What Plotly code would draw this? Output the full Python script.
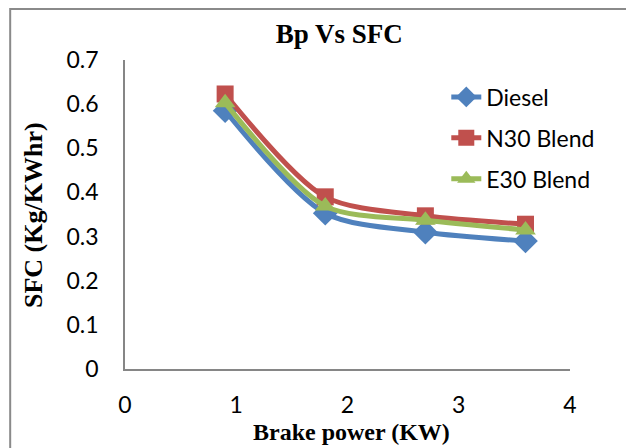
import plotly.graph_objects as go

bp = [0.9, 1.8, 2.7, 3.6]
diesel = [0.585, 0.353, 0.31, 0.29]
n30 = [0.623, 0.39, 0.347, 0.328]
e30 = [0.603, 0.369, 0.337, 0.315]

series = [
    ("Diesel", diesel, "#4F81BD", "diamond", 19),
    ("N30 Blend", n30, "#C0504D", "square", 17),
    ("E30 Blend", e30, "#9BBB59", "triangle-up", 18),
]

fig = go.Figure()
for i, (name, vals, col, sym, sz) in enumerate(series):
    fig.add_trace(go.Scatter(
        x=bp, y=vals, name=name, mode="lines+markers", legendgroup=f"g{i}",
        line=dict(color=col, width=5, shape="spline", smoothing=0.8),
        marker=dict(symbol=sym, size=sz, color=col),
    ))

sans = "Lato, Open Sans, sans-serif"
serif = "Liberation Serif, Times New Roman, serif"
tick_font = dict(family=sans, size=23, color="#000")
fig.update_layout(
    width=626, height=448,
    margin=dict(l=125, r=56, t=60, b=79),
    paper_bgcolor="white", plot_bgcolor="white",
    title=dict(text="<b>Bp Vs SFC</b>", x=0.542, xanchor="center", y=0.924, yanchor="middle",
               font=dict(family=serif, size=27, color="#000")),
    xaxis=dict(range=[0, 4], dtick=1, showgrid=False, zeroline=False, showline=True,
               linecolor="#868686", linewidth=1.5, ticks="", tickfont=tick_font,
               ticklabelstandoff=15),
    yaxis=dict(range=[0, 0.7], dtick=0.1, showgrid=False, zeroline=False, showline=True,
               linecolor="#868686", linewidth=1.5, ticks="", tickfont=tick_font,
               tickformat=".1~f", ticklabelstandoff=20),
    legend=dict(x=0.722, y=0.95, xanchor="left", yanchor="top", bgcolor="rgba(0,0,0,0)",
                font=dict(family=sans, size=23, color="#000"),
                tracegroupgap=8, traceorder="grouped"),
    showlegend=True,
)
fig.add_annotation(text="<b>Brake power (KW)</b>", xref="paper", yref="paper",
                   x=0.51, y=-0.205, xanchor="center", yanchor="middle", showarrow=False,
                   font=dict(family=serif, size=24, color="#000"))
fig.add_annotation(text="<b>SFC (Kg/KWhr)</b>", xref="paper", yref="paper",
                   x=-0.207, y=0.498, xanchor="center", yanchor="middle", showarrow=False,
                   textangle=-90, font=dict(family=serif, size=26, color="#000"))
fig.add_shape(type="rect", xref="paper", yref="paper", x0=-0.258, x1=1.2, y0=-0.35, y1=1.165,
              line=dict(color="#8a8a8a", width=2), fillcolor="rgba(0,0,0,0)", layer="below")
fig.write_html("out.html")
